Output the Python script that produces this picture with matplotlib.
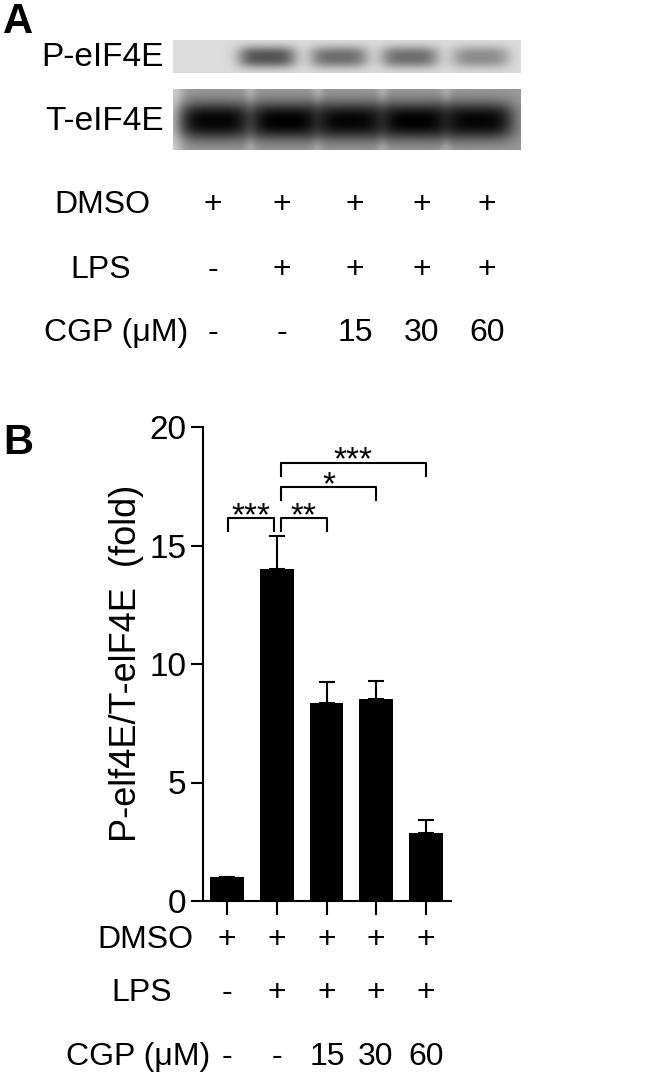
import numpy as np
import matplotlib
matplotlib.use("Agg")
import matplotlib.pyplot as plt
from matplotlib import font_manager

# ---------------- data ----------------
groups = ["Control", "LPS", "LPS+CGP15", "LPS+CGP30", "LPS+CGP60"]
ratio_mean = [1.0, 14.0, 8.35, 8.52, 2.87]
ratio_sem = [0.0, 1.38, 0.88, 0.75, 0.55]

dmso_row = ["+", "+", "+", "+", "+"]
lps_row = ["-", "+", "+", "+", "+"]
cgp_row = ["-", "-", "15", "30", "60"]

yticks = [0, 5, 10, 15, 20]

# significance comparisons (group i, group j, label)
sig_pairs = [(0, 1, "***"), (1, 2, "**"), (1, 3, "*"), (1, 4, "***")]
sig_heights = [16.15, 16.15, 17.45, 18.5]

# western blot band densities per lane (0 = none, 1 = saturated)
p_eif4e_bands = [0.0, 0.62, 0.5, 0.5, 0.36]
t_eif4e_bands = [0.97, 1.0, 0.97, 1.0, 0.97]

# ---------------- fonts ----------------
names = {f.name for f in font_manager.fontManager.ttflist}
base = "Liberation Sans Narrow" if "Liberation Sans Narrow" in names else "Liberation Sans"
plt.rcParams["font.family"] = [base, "DejaVu Sans"]

W, H = 661, 1080
fig = plt.figure(figsize=(W / 100, H / 100), dpi=100)

# overlay axes in pixel coordinates
ov = fig.add_axes([0, 0, 1, 1])
ov.set_xlim(0, W)
ov.set_ylim(H, 0)
ov.axis("off")

# ---- blots ----
def blot(x0, x1, y0, y1, centers, dens, bg, band_half_w, band_y, band_half_h,
         edge_light=0.0, streak=0.0):
    nx, ny = int(x1 - x0), int(y1 - y0)
    xs = np.linspace(x0, x1, nx)
    ys = np.linspace(y0, y1, ny)
    X, Y = np.meshgrid(xs, ys)
    img = np.full((ny, nx), bg, dtype=float)
    img += edge_light * np.exp(-((X - x0) / 10.0) ** 2)
    # lighter streaks between lanes
    for a, b in zip(centers[:-1], centers[1:]):
        img += streak * np.exp(-((X - (a + b) / 2) / 6.0) ** 2)
    for c, d in zip(centers, dens):
        prof = np.exp(-(np.abs((X - c) / band_half_w)) ** 4) * \
            np.exp(-(np.abs((Y - band_y) / band_half_h)) ** 2.5)
        img -= d * prof * img
    img = np.clip(img, 0, 1)
    ov.imshow(img, cmap="gray", vmin=0, vmax=1, extent=(x0, x1, y1, y0), aspect="auto",
              interpolation="bilinear", zorder=1)

p_centers = [205, 267, 339, 410, 481]
blot(173, 521, 40, 73, p_centers, p_eif4e_bands, 0.86, 29, 57, 11)
t_centers = [215, 285, 350, 415, 478]
blot(173, 521, 89, 150, t_centers, t_eif4e_bands, 0.6, 37, 121, 19,
     edge_light=0.2, streak=0.1)

fs = 23
ov.text(18, 22, "A", fontsize=30, fontweight="bold", family="Liberation Sans",
        ha="center", va="center")
ov.text(18, 443, "B", fontsize=30, fontweight="bold", family="Liberation Sans",
        ha="center", va="center")

ov.text(164, 57, "P-eIF4E", fontsize=fs + 1, ha="right", va="center")
ov.text(164, 121, "T-eIF4E", fontsize=fs + 1, ha="right", va="center")

# table A
colsA = [213, 282, 355, 422, 487]
for lab, row, y, lx in [("DMSO", dmso_row, 205, 102), ("LPS", lps_row, 270, 101),
                        ("CGP (μM)", cgp_row, 333, 116)]:
    ov.text(lx, y, lab, fontsize=fs, ha="center", va="center")
    for cx, s in zip(colsA, row):
        ov.text(cx, y, s, fontsize=fs, ha="center", va="center")

# ---------------- bar chart ----------------
x0p, x1p, y0p, y1p = 203, 451, 901, 427
ax = fig.add_axes([x0p / W, 1 - y0p / H, (x1p - x0p) / W, (y0p - y1p) / H])
x = np.arange(len(groups))
ax.bar(x, ratio_mean, width=0.68, color="black", zorder=2)
ax.errorbar(x, ratio_mean, yerr=[np.zeros(len(x)), ratio_sem], fmt="none",
            ecolor="black", elinewidth=1.5, capsize=6, capthick=1.5, zorder=1)
ax.set_xlim(-0.48, 4.5)
ax.set_ylim(0, 20)
ax.set_yticks(yticks)
ax.set_yticklabels([str(t) for t in yticks], fontsize=24)
ax.set_xticks(x)
ax.set_xticklabels([])
for s in ["top", "right"]:
    ax.spines[s].set_visible(False)
for s in ["left", "bottom"]:
    ax.spines[s].set_linewidth(1.5)
ax.tick_params(axis="y", direction="out", length=9, width=1.5, pad=3)
ax.tick_params(axis="x", direction="out", length=10, width=1.5)
ov.text(127, 663, "P-elf4E/T-elF4E  (fold)", fontsize=26, rotation=90,
        ha="center", va="center")

# significance brackets
leg = 0.55
for (i, j, lab), h in zip(sig_pairs, sig_heights):
    xi = i + (0.02 if i == 0 else 0.08)
    xj = j - (0.06 if j == 1 else 0.0)
    ax.plot([xi, xi, xj, xj], [h - leg, h, h, h - leg], color="black", lw=1.5,
            clip_on=False)
    ax.text((xi + xj) / 2, h - 0.3, lab, ha="center", va="baseline", fontsize=24)

# table B
colsB = [227, 277, 327, 376, 426]
for lab, row, y, lx in [("DMSO", dmso_row, 940, 193), ("LPS", lps_row, 993, 172),
                        ("CGP (μM)", cgp_row, 1057, 210)]:
    ov.text(lx, y, lab, fontsize=fs, ha="right", va="center")
    for cx, s in zip(colsB, row):
        ov.text(cx, y, s, fontsize=fs, ha="center", va="center")

fig.savefig("out.png", dpi=100)
